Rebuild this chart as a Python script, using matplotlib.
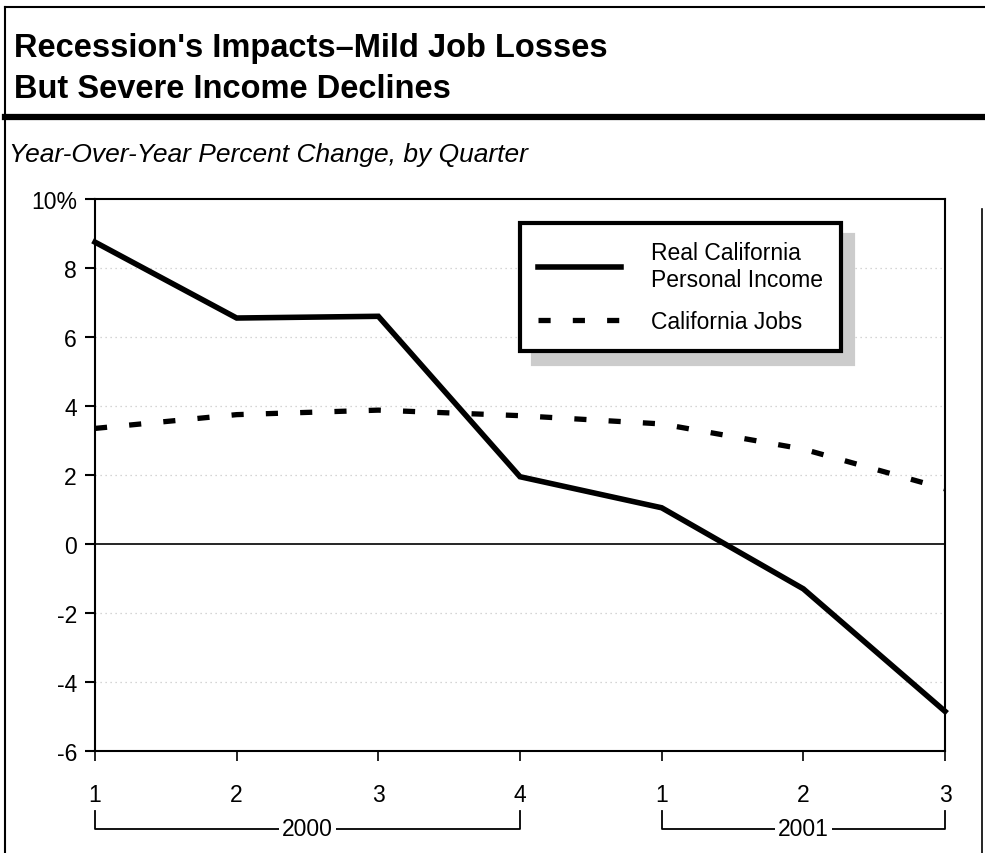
import matplotlib.pyplot as plt
from matplotlib.lines import Line2D
import matplotlib.transforms as mtransforms

plt.rcParams['font.family'] = ['Liberation Sans', 'DejaVu Sans']

# quarters, 2000 Q1 .. 2001 Q3
quarters = [1, 2, 3, 4, 5, 6, 7]
quarter_labels = ['1', '2', '3', '4', '1', '2', '3']
income = [8.75, 6.55, 6.6, 1.95, 1.05, -1.3, -4.85]
jobs = [3.35, 3.75, 3.88, 3.72, 3.48, 2.75, 1.6]
years = [('2000', 1, 4), ('2001', 5, 7)]
yticks = [-6, -4, -2, 0, 2, 4, 6, 8, 10]

W, H = 985, 854
fig = plt.figure(figsize=(W / 100, H / 100), dpi=100)

# ---------- frame & title band ----------
def fx(px):
    return px / W

def fy(py):
    return 1 - py / H

fig.add_artist(Line2D([fx(5), fx(5)], [fy(8), 0], color='black', lw=1.5))
fig.add_artist(Line2D([fx(5), 1], [fy(8), fy(8)], color='black', lw=1.5))
fig.add_artist(Line2D([fx(5), 1], [fy(118), fy(118)], color='black', lw=4.5))
fig.add_artist(Line2D([fx(982), fx(982)], [fy(210), 0], color='black', lw=1.2))

fig.text(fx(14), fy(49), "Recession's Impacts\u2013Mild Job Losses",
         fontsize=23.5, fontweight='bold', va='center', ha='left')
fig.text(fx(14), fy(90), "But Severe Income Declines",
         fontsize=23.5, fontweight='bold', va='center', ha='left')
fig.text(fx(9), fy(155), "Year-Over-Year Percent Change, by Quarter",
         fontsize=19, style='italic', va='center', ha='left')

# ---------- main axes ----------
left, right, top, bottom = 95, 945, 200, 752
ax = fig.add_axes([fx(left), fy(bottom), fx(right - left), (bottom - top) / H])

for y in yticks[1:-1]:
    if y != 0:
        ax.axhline(y, color='#c8c8c8', lw=0.9, ls=(0, (1, 3)), zorder=1)
ax.axhline(0, color='black', lw=1.2, zorder=2)

ax.plot(quarters, income, color='black', lw=4, solid_joinstyle='miter',
        label='Real California\nPersonal Income', zorder=4, clip_on=False)
ax.plot(quarters, jobs, color='black', lw=3.8, ls=(0, (2.3, 4.2)),
        dash_capstyle='butt', label='California Jobs', zorder=4, clip_on=False)

ax.set_xlim(1, 7)
ax.set_ylim(-6, 10)
ax.set_yticks(yticks)
ax.set_yticklabels([str(v) if v != 10 else '10%' for v in yticks])
ax.set_xticks(quarters)
ax.set_xticklabels(quarter_labels)
ax.tick_params(axis='y', length=7, width=1.5, direction='out', pad=6, labelsize=16.5)
ax.tick_params(axis='x', length=7, width=1.2, direction='out', pad=16, labelsize=16.5)
for s in ax.spines.values():
    s.set_linewidth(1.5)

leg = ax.legend(loc='upper left', bbox_to_anchor=(0.5, 0.957), fontsize=16.5,
                frameon=True, fancybox=False, edgecolor='black',
                handlelength=3.6, handletextpad=1.3, borderpad=0.8,
                labelspacing=0.85, borderaxespad=0,
                shadow={'ox': 9, 'oy': -9, 'color': '#cccccc', 'alpha': 1})
leg.get_frame().set_linewidth(3)

# ---------- year brackets under the quarter labels ----------
trans = mtransforms.blended_transform_factory(ax.transData, fig.transFigure)
for name, x0, x1 in years:
    ax.add_line(Line2D([x0, x0, x1, x1], [fy(812), fy(830), fy(830), fy(812)],
                       transform=trans, color='black', lw=1.3, clip_on=False))
    ax.text((x0 + x1) / 2, fy(830), name, transform=trans, fontsize=16.5,
            ha='center', va='center',
            bbox=dict(facecolor='white', edgecolor='none', pad=2))

fig.savefig('out.png', dpi=100)
